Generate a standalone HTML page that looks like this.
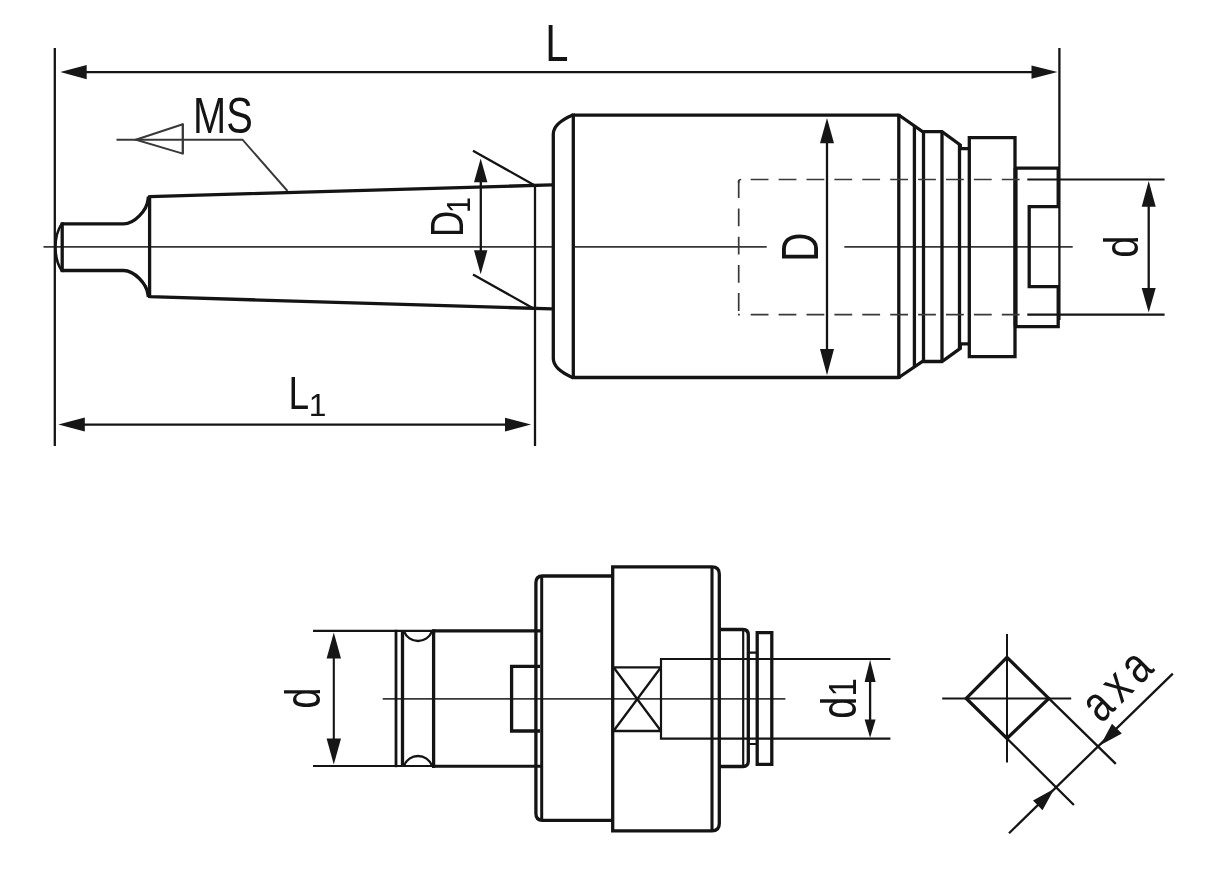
<!DOCTYPE html>
<html><head><meta charset="utf-8">
<style>
html,body{margin:0;padding:0;background:#fff;}
body{width:1214px;height:879px;overflow:hidden;}
svg{display:block;filter:blur(0.45px);}
.k{stroke:#141414;stroke-width:3.3;fill:none;stroke-linecap:butt;stroke-linejoin:miter;}
.m{stroke:#141414;stroke-width:2.3;fill:none;}
.t{stroke:#383838;stroke-width:1.7;fill:none;}
.a{fill:#161616;stroke:none;}
text{font-family:"Liberation Sans",sans-serif;}
.lbl text{fill:#141414;stroke:none;}
</style></head><body>
<svg width="1214" height="879" viewBox="0 0 1214 879">
<rect width="1214" height="879" fill="#fff"/>

<!-- ===== TOP VIEW ===== -->
<!-- centerline -->
<path class="t" d="M43.5 246.8H552.5M575 246.8H766.7M844.3 246.8H1072.7"/>

<!-- L dimension -->
<path class="m" d="M54.8 48V446M1059.4 48V320"/>
<path class="m" d="M80 72.1H1040" style="stroke-width:2.1"/>
<path class="a" d="M60.3 72.1L86.7 64.9V79.3Z"/>
<path class="a" d="M1057.5 72.1L1031.5 65.4V78.8Z"/>

<!-- L1 dimension -->
<path class="m" d="M535 185V446"/>
<path class="m" d="M80 424.6H512" style="stroke-width:2.1"/>
<path class="a" d="M58.4 424.6L84.8 417.6V431.6Z"/>
<path class="a" d="M531 424.6L505 417.7V431.5Z"/>

<!-- MS leader + taper symbol -->
<path class="t" d="M116.5 139.7H242.5L287.5 191" style="stroke-width:1.9"/>
<path class="t" d="M182.8 124.2L135.8 139.7L182.8 153.6" style="stroke-width:2"/><path class="t" d="M182.8 123.4V154.4" style="stroke-width:2.3"/>

<!-- Morse taper shank -->
<path class="k" d="M149.6 196.6L552 184.9M149.6 296.7L552 308.9M149.6 195.2V298.1"/>
<!-- tang -->
<path class="k" d="M148.4 196.6L148 199.6C147 210.6 134 223.9 123.7 223.9H61.5M148.4 296.9L148 294.8C147 283.8 134 270.5 123.7 270.5H61.5"/>
<path class="k" d="M62.2 222.3V272.1"/>
<path class="k" d="M61.8 223.6Q55.5 233 55.5 247.2T61.8 270.8" style="stroke-width:2.6"/>

<!-- D1 dimension -->
<path class="m" d="M480.8 170V262"/>
<path class="a" d="M480.7 158.5L474 182.2H487.4Z"/>
<path class="a" d="M480.7 274.2L474 250.2H487.4Z"/>
<path class="m" d="M473 150.7L534 184.9M473 274.4L534 308.8"/>

<!-- Body -->
<path class="k" d="M898.8 115.1H573.3M573.3 114.7C562 119.5 553.3 126 553.3 134V358.6C553.3 366.6 562 373.1 573.3 377.9M573.3 377.5H898.8"/>
<path class="k" d="M573.3 113.5V379.1"/>
<path class="k" d="M898.8 113.7V378.9"/>
<path class="k" d="M898.8 115L922.5 131.6H942L960.3 145V148.6H969.3"/>
<path class="k" d="M898.8 377.5L922.5 361.5H942L960.3 348.3V343.8H969.3"/>
<path class="k" d="M914.4 126V367M923.5 131.6V361.5M942 131.6V361.5M959.5 144.5V349"/>
<!-- nut -->
<path class="k" d="M969.3 137.6H1015V356.7H969.3Z"/>
<!-- end piece -->
<path class="k" d="M1015.4 168.2H1058.2V206.7H1029.2V286.7H1058.2V326.6H1015.4"/><path class="k" d="M1015.6 168.2V326.6" style="stroke-width:4"/>

<!-- dashed bore -->
<path class="t" stroke-dasharray="17.8 10.4" d="M738.7 180.3V314.2"/>
<path class="t" d="M738.7 183V181.6Q738.7 179.5 741.2 179.5M738 314.7H739.8"/>
<path class="t" stroke-dasharray="17.8 10.1" d="M750.7 179.5H1027M750.7 314.7H1027"/>
<path class="m" d="M1027.3 179.5H1164.6M1027.3 314.7H1164.6" style="stroke-width:2.2"/>

<!-- D dimension -->
<path class="m" d="M827 130V362"/>
<path class="a" d="M827 118L820 143.2H834Z"/>
<path class="a" d="M827 375.2L820 349H834Z"/>

<!-- d dimension -->
<path class="m" d="M1148.7 192V302"/>
<path class="a" d="M1148.7 181L1141.7 206.8H1155.7Z"/>
<path class="a" d="M1148.7 312.6L1141.7 288H1155.7Z"/>

<!-- ===== BOTTOM VIEW ===== -->
<path class="t" d="M382.7 698.8H785.4"/>
<!-- d dimension -->
<path class="m" d="M313 630.9H434M313 766H434" style="stroke-width:2.1"/>
<path class="m" d="M333.8 645V752" style="stroke-width:2.1"/>
<path class="a" d="M333.8 632.6L326.6 658.4H341Z"/>
<path class="a" d="M333.8 764.4L326.6 738.4H341Z"/>
<!-- shank -->
<path class="k" d="M396 629.8V767.2" style="stroke-width:2.8"/>
<path class="k" d="M402.5 630V767M433.6 629.3V767.9"/>
<path class="k" d="M433.6 630.9H541M433.6 766.3H541" style="stroke-width:3.1"/>
<path class="k" d="M404 631.4A15 15 0 0 0 432 631.4M404 765.6A15 15 0 0 1 432 765.6" style="stroke-width:2.4"/>
<!-- key -->
<path class="k" d="M540 666.4H511.6V731H540"/>
<!-- flange 1 -->
<path class="k" d="M612.4 576H542.5Q535.9 576 535.9 583V813.5Q535.9 820.3 542.5 820.3H612.4"/>
<path class="k" d="M541.7 576V820.3" style="stroke-width:3"/>
<!-- big collar -->
<path class="k" d="M612.7 566.8H712Q719.3 566.8 719.3 574V823.5Q719.3 830.8 712 830.8H612.7Z"/>
<path class="k" d="M712 566.8V830.8" style="stroke-width:3.1"/>
<!-- X box -->
<path class="m" d="M612.4 667.3H661M612.4 731H661M613.5 667.3L661 731M613.5 731L661 667.3" style="stroke-width:2.3"/>
<!-- d1 bore -->
<path class="m" d="M890.4 659H661V738.6H890.4" style="stroke-width:2.2"/>
<!-- right stub -->
<path class="k" d="M719.3 629.5H743Q748.3 629.5 748.3 635V761Q748.3 766.5 743 766.5H719.3"/>
<path class="k" d="M743.2 629.5V766.5" style="stroke-width:2.2"/>
<path class="k" d="M748.3 652.6H757.2M748.3 744H757.2" style="stroke-width:2.2"/>
<path class="k" d="M757.2 632.6H771.8V764.4H757.2Z"/>
<!-- d1 dimension -->
<path class="m" d="M870.1 670V728"/>
<path class="a" d="M870.1 659.8L864.6 682H875.6Z"/>
<path class="a" d="M870.1 737.8L864.6 719.6H875.6Z"/>

<!-- ===== SQUARE SYMBOL ===== -->
<path class="m" d="M1007 633.9V762.4M942.2 698.4H1071.2" style="stroke-width:2"/>
<path class="k" d="M1007 657.4L1048.8 698.4L1007 738.5L966.2 698.4Z"/>
<path class="m" d="M1048.8 698.4L1115.8 763.9M1007 738.5L1073.9 805"/>
<path class="m" d="M1009 833.2L1172.8 673.6"/>
<path class="a" d="M1054.3 788.8L1033 800.5L1042.5 810.3Z"/>
<path class="a" d="M1100.6 745.1L1112 723.7L1121.8 733.5Z"/>

<!-- ===== TEXT: labels ===== -->
<g class="lbl" fill="#141414" stroke="none">
<text transform="translate(545.3,60.7) rotate(0) scale(0.834,1.039)" font-size="50">L</text>
<text transform="translate(193.0,133.2) rotate(0) scale(0.796,1.005)" font-size="50">MS</text>
<text transform="translate(288.5,409.0) rotate(0) scale(0.742,0.919)" font-size="50">L</text>
<text transform="translate(308.8,416.4) rotate(0) scale(0.635,0.633)" font-size="50">1</text>
<text transform="translate(462.9,236.9) rotate(-90) scale(0.727,0.925)" font-size="50">D</text>
<text transform="translate(470.1,213.0) rotate(-90) scale(0.567,0.648)" font-size="50">1</text>
<text transform="translate(817.6,261.8) rotate(-90) scale(0.810,1.030)" font-size="50">D</text>
<text transform="translate(1137.7,257.7) rotate(-90) scale(0.803,0.975)" font-size="50">d</text>
<text transform="translate(319.7,708.6) rotate(-90) scale(0.750,0.984)" font-size="50">d</text>
<text transform="translate(855.8,718.8) rotate(-90) scale(0.794,0.986)" font-size="50">d</text>
<text transform="translate(855.8,696.4) rotate(-90) scale(0.665,0.785)" font-size="50">1</text>
<text transform="translate(1101.2,724.2) rotate(-45) scale(0.78,1)" font-size="51" letter-spacing="8">axa</text>
</g>

</svg>
</body></html>
